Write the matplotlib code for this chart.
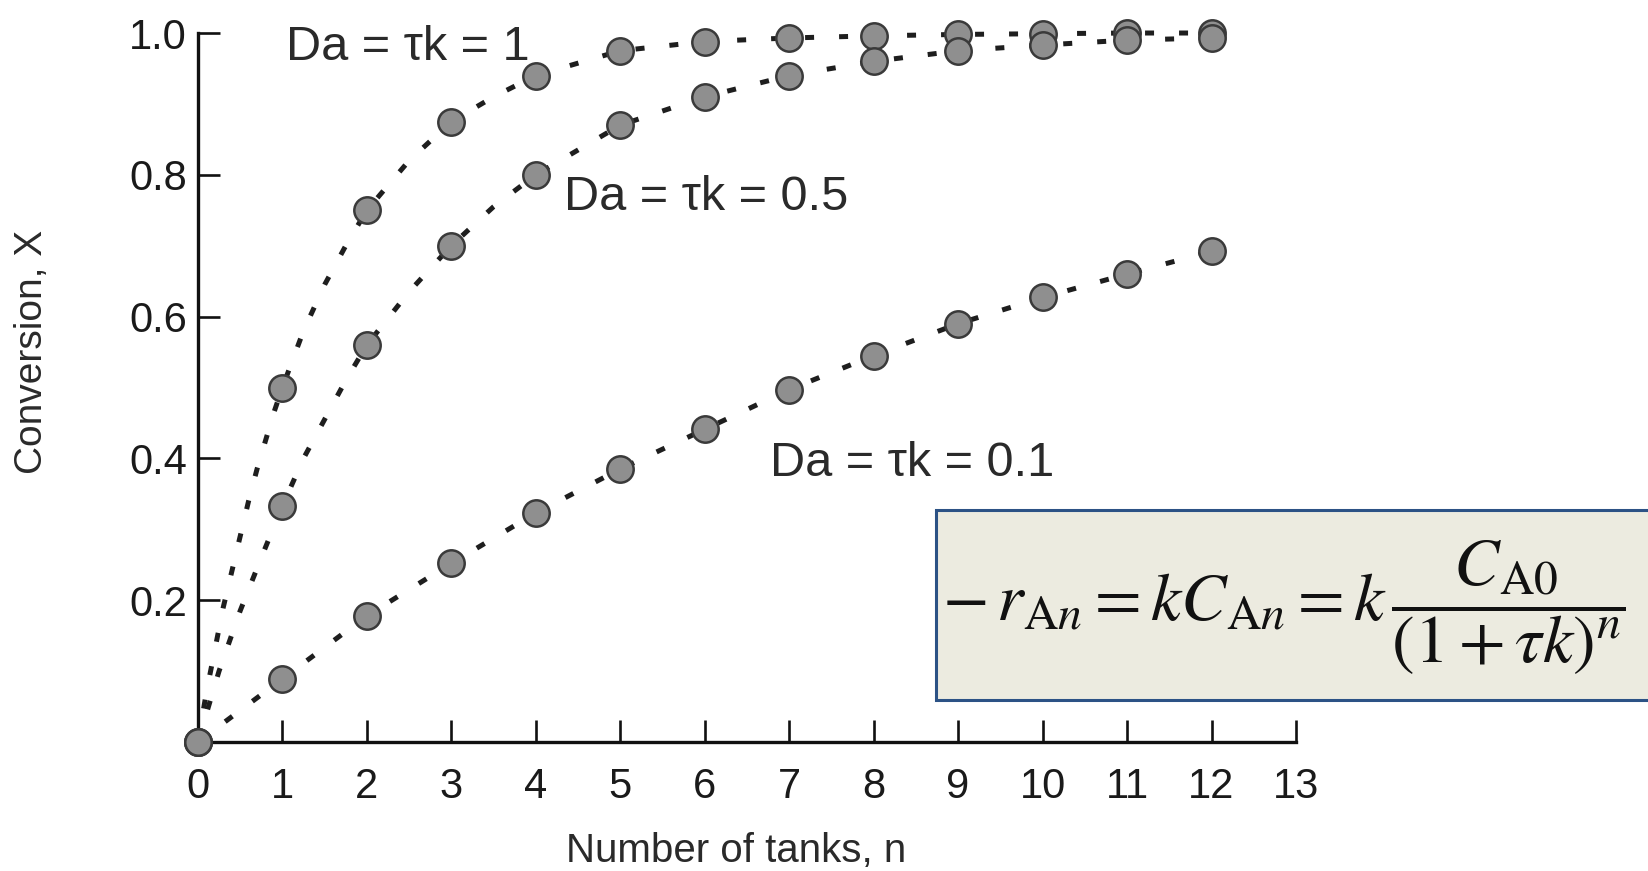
import matplotlib
matplotlib.use('Agg')
import matplotlib.pyplot as plt
from matplotlib.patches import Rectangle

plt.rcParams['font.family'] = ['Liberation Sans', 'DejaVu Sans']
plt.rcParams['mathtext.fontset'] = 'stix'

# ---- data ----
n_tanks = [0, 1, 2, 3, 4, 5, 6, 7, 8, 9, 10, 11, 12]
x_da1 = [0.0, 0.50, 0.75, 0.875, 0.94, 0.975, 0.988, 0.993, 0.996, 0.998, 0.999, 1.0, 1.0]
x_da05 = [0.0, 0.333, 0.56, 0.70, 0.80, 0.87, 0.91, 0.94, 0.96, 0.975, 0.983, 0.99, 0.993]
x_da01 = [0.0, 0.089, 0.178, 0.252, 0.323, 0.385, 0.441, 0.497, 0.545, 0.59, 0.627, 0.66, 0.692]

# dashed curves (read along the dashes, including between whole tanks)
n_curve1 = [0, 0.1, 0.2, 0.3, 0.4, 0.5, 0.6, 0.7, 0.8, 0.9, 1.0, 1.25, 1.5, 1.75, 2.0,
            2.5, 3.0, 3.5, 4.0, 5, 6, 7, 8, 9, 10, 11, 12]
x_curve1 = [0.0, 0.07, 0.13, 0.19, 0.24, 0.29, 0.34, 0.385, 0.425, 0.465, 0.50, 0.58, 0.645,
            0.70, 0.75, 0.82, 0.875, 0.91, 0.94, 0.975, 0.988, 0.993, 0.996, 0.998, 0.999, 1.0, 1.0]
n_curve05 = [0, 0.25, 0.5, 0.75, 1.0, 1.25, 1.5, 1.75, 2.0, 2.5, 3.0, 3.5, 4.0,
             5, 6, 7, 8, 9, 10, 11, 12]
x_curve05 = [0.0, 0.10, 0.185, 0.26, 0.333, 0.40, 0.455, 0.51, 0.56, 0.635, 0.70, 0.755, 0.80,
             0.87, 0.91, 0.94, 0.96, 0.975, 0.983, 0.99, 0.993]
n_curve01 = n_tanks
x_curve01 = x_da01

labels = ['Da = \u03c4k = 1', 'Da = \u03c4k = 0.5', 'Da = \u03c4k = 0.1']
label_pos = [(1.04, 0.98), (4.33, 0.768), (6.77, 0.393)]

xtick_vals = list(range(14))
ytick_vals = [0.2, 0.4, 0.6, 0.8, 1.0]
ytick_labels = ['0.2', '0.4', '0.6', '0.8', '1.0']

formula = r'$-\,r_{\mathrm{A}n} = kC_{\mathrm{A}n} = k\,\dfrac{C_{\mathrm{A0}}}{(1+\tau k)^{n}}$'

# ---- figure ----
fig = plt.figure(figsize=(16.48, 8.71), dpi=100)
ax = fig.add_axes([0.1201, 0.1481, 0.6663, 0.8140])

line_kw = dict(color='#1e1e1e', lw=3.6, dashes=(1.8, 5.0), clip_on=False, zorder=2)
mark_kw = dict(ls='none', marker='o', ms=19, mfc='#8f8f8f', mec='#3a3a3a', mew=1.8,
               clip_on=False, zorder=3)

for nc, xc, xm in [(n_curve1, x_curve1, x_da1),
                   (n_curve05, x_curve05, x_da05),
                   (n_curve01, x_curve01, x_da01)]:
    ax.plot(nc, xc, **line_kw)
    ax.plot(n_tanks, xm, **mark_kw)

for txt, (px, py) in zip(labels, label_pos):
    ax.text(px, py, txt, fontsize=35, color='#2a2a2a', ha='left', va='center')

ax.set_xlim(0, 13)
ax.set_ylim(0, 1.0)
ax.set_xticks(xtick_vals)
ax.set_xticklabels([str(v) for v in xtick_vals])
ax.set_yticks(ytick_vals)
ax.set_yticklabels(ytick_labels)

for s in ['top', 'right']:
    ax.spines[s].set_visible(False)
for s in ['left', 'bottom']:
    ax.spines[s].set_linewidth(2.4)
    ax.spines[s].set_color('#111111')

ax.tick_params(axis='both', direction='in', length=16, width=1.9, colors='#111111',
               labelsize=30, labelcolor='#1a1a1a')
ax.tick_params(axis='x', pad=18)
ax.tick_params(axis='y', pad=8)

fig.text(32 / 1648, 1 - 352 / 871, 'Conversion, X', rotation=90, ha='center', va='center',
         fontsize=28, color='#2a2a2a')
fig.text(736 / 1648, 1 - 851 / 871, 'Number of tanks, n', ha='center', va='center',
         fontsize=29, color='#2a2a2a')

# formula box
box = Rectangle((936 / 1648, 1 - 700 / 871), 0.45, 190 / 871, transform=fig.transFigure,
                facecolor='#ecebe0', edgecolor='#2c5285', lw=2.2, zorder=5, clip_on=False)
fig.patches.append(box)
fig.text(942 / 1648, 1 - 608 / 871, formula, fontsize=49, ha='left', va='center',
         color='#111111', zorder=6)

fig.savefig('out.png', dpi=100, facecolor='white')
